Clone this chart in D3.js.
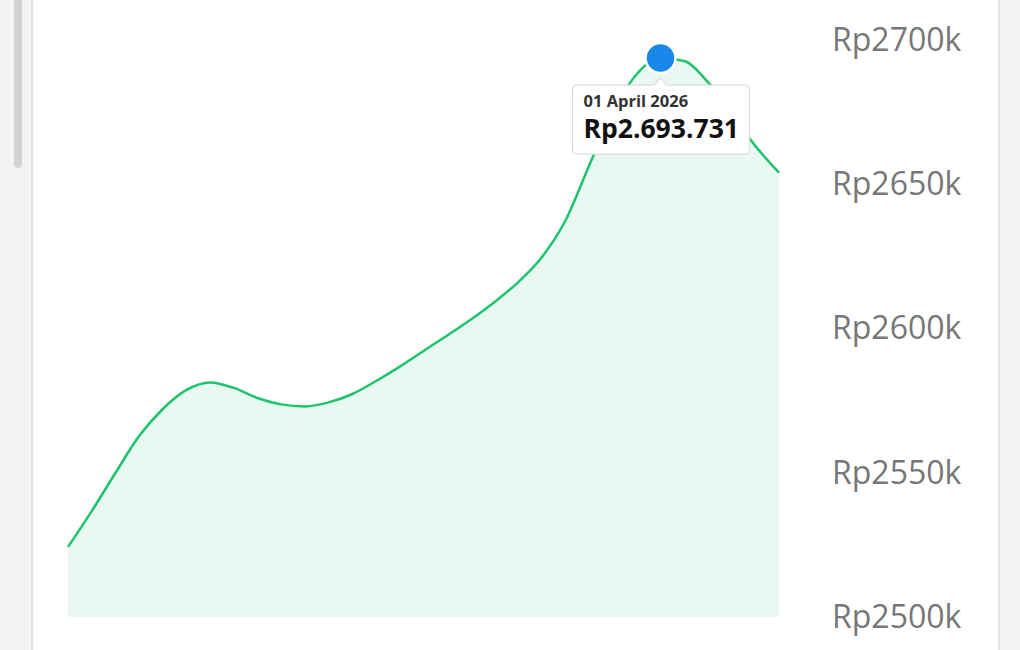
<!DOCTYPE html>
<html lang="id">
<head>
  <meta charset="UTF-8">
  <script src="https://cdn.jsdelivr.net/npm/d3@7"></script>
  <title>Harga</title>
  <style>
    html, body { margin: 0; padding: 0; background: #f3f3f3; }
    svg { display: block; font-family: "Open Sans", "Noto Sans", sans-serif; }
  </style>
</head>
<body>
  <svg width="1020" height="650"></svg>
  <script>
    // harga harian (ribu rupiah)
    var dates = ["2026-03-07", "2026-03-08", "2026-03-09", "2026-03-10", "2026-03-11", "2026-03-12",
      "2026-03-13", "2026-03-14", "2026-03-15", "2026-03-16", "2026-03-17", "2026-03-18",
      "2026-03-19", "2026-03-20", "2026-03-21", "2026-03-22", "2026-03-23", "2026-03-24",
      "2026-03-25", "2026-03-26", "2026-03-27", "2026-03-28", "2026-03-29", "2026-03-30",
      "2026-03-31", "2026-04-01", "2026-04-02", "2026-04-03", "2026-04-04", "2026-04-05",
      "2026-04-06"];
    var prices = [2524.3, 2536.7, 2549.9, 2562.7, 2572.1, 2578.7,
      2581.3, 2579.4, 2575.9, 2573.7, 2573.0, 2574.4,
      2577.3, 2581.8, 2586.8, 2592.2, 2597.6, 2603.1,
      2609.2, 2616.1, 2624.8, 2637.6, 2656.7, 2675.0,
      2688.2, 2693.731, 2692.7, 2685.4, 2674.4, 2663.3,
      2654.0];
    var yTicks = [2500, 2550, 2600, 2650, 2700];
    var selected = "2026-04-01";
    var bulan = ["Januari", "Februari", "Maret", "April", "Mei", "Juni", "Juli",
      "Agustus", "September", "Oktober", "November", "Desember"];

    var parse = d3.timeParse("%Y-%m-%d");
    var data = dates.map((d, i) => ({ date: parse(d), value: prices[i] }));

    var svg = d3.select("svg");

    // kartu putih + scrollbar
    svg.append("rect").attr("x", 0).attr("y", 0).attr("width", 1020).attr("height", 650).attr("fill", "#f3f3f3");
    svg.append("rect").attr("x", 32).attr("y", -2).attr("width", 967).attr("height", 660)
      .attr("fill", "#fff").attr("stroke", "#e4e4e4").attr("stroke-width", 2);
    svg.append("rect").attr("x", 14).attr("y", -10).attr("width", 8).attr("height", 178)
      .attr("rx", 4).attr("fill", "#d3d3d3");

    var xScale = d3.scaleTime()
      .domain(d3.extent(data, d => d.date))
      .range([68, 779]);
    var yScale = d3.scaleLinear()
      .domain([2500, 2700])
      .range([617, 40]);

    // area
    var area = d3.area()
      .x(d => xScale(d.date))
      .y0(yScale(2500))
      .y1(d => yScale(d.value))
      .curve(d3.curveMonotoneX);
    svg.append("path").datum(data).attr("d", area).attr("fill", "#e9f9f1");

    var line = d3.line()
      .x(d => xScale(d.date))
      .y(d => yScale(d.value))
      .curve(d3.curveMonotoneX);
    svg.append("path").datum(data).attr("d", line)
      .attr("fill", "none").attr("stroke", "#1dc46c").attr("stroke-width", 2.5);

    // sumbu kanan
    var yAxis = d3.axisRight(yScale)
      .tickValues(yTicks)
      .tickSize(0)
      .tickPadding(0)
      .tickFormat(d => "Rp" + d + "k");
    var ax = svg.append("g").attr("transform", "translate(832,0)").call(yAxis);
    ax.select(".domain").remove();
    ax.selectAll("text")
      .attr("font-family", "'Open Sans', 'Noto Sans', sans-serif")
      .attr("font-size", 32)
      .attr("fill", "#777");

    // titik terpilih + tooltip
    var sel = data.find(d => d3.timeFormat("%Y-%m-%d")(d.date) === selected);
    var px = xScale(sel.date), py = yScale(sel.value);

    var tip = svg.append("g").attr("transform", `translate(${px - 88},${py + 27})`);
    tip.append("rect")
      .attr("width", 177).attr("height", 69).attr("rx", 4)
      .attr("fill", "#fff").attr("stroke", "#dcdcdc").attr("stroke-width", 1.2);
    tip.append("path")
      .attr("d", "M81,0.5 L88,-7 L95,0.5")
      .attr("fill", "#fff").attr("stroke", "#dcdcdc").attr("stroke-width", 1.2);
    tip.append("rect").attr("x", 80).attr("y", 0).attr("width", 16).attr("height", 2).attr("fill", "#fff");
    tip.append("text")
      .attr("x", 11).attr("y", 22)
      .attr("font-size", 16.5).attr("font-weight", 700).attr("fill", "#333")
      .text(d3.timeFormat("%d")(sel.date) + " " + bulan[sel.date.getMonth()] + " " + sel.date.getFullYear());
    tip.append("text")
      .attr("x", 11).attr("y", 53)
      .attr("font-size", 26.5).attr("font-weight", 700).attr("fill", "#111")
      .text("Rp" + Math.round(sel.value * 1000).toString().replace(/\B(?=(\d{3})+(?!\d))/g, "."));

    svg.append("circle")
      .attr("cx", px).attr("cy", py).attr("r", 15)
      .attr("fill", "#1a88e8").attr("stroke", "#fff").attr("stroke-width", 2.5);
  </script>
</body>
</html>
